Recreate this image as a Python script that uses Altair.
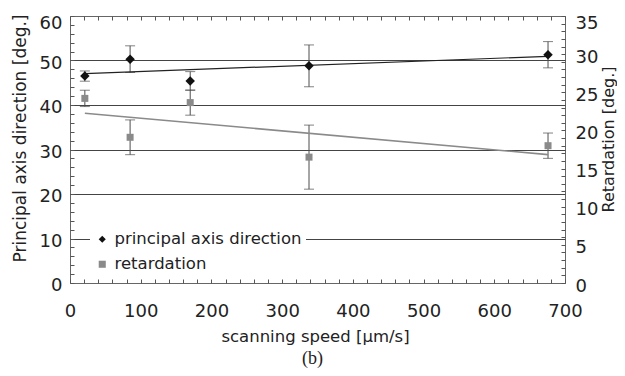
import altair as alt
import pandas as pd

# ---- data ----
speed = [21, 85, 170, 338, 676]
principal = [46.5, 50.3, 45.4, 48.8, 51.3]
principal_err = [1.15, 3.0, 2.1, 4.7, 2.95]
retardation = [24.2, 19.1, 23.65, 16.5, 18.0]
retardation_err = [1.07, 2.28, 1.65, 4.2, 1.66]
series_names = ["principal axis direction", "retardation"]
x_ticks = list(range(0, 701, 20))
yl_ticks = list(range(0, 61, 2))
yr_ticks = list(range(0, 36, 1))

df_p = pd.DataFrame({"speed": speed, "value": principal, "err": principal_err,
                     "series": series_names[0]})
df_r = pd.DataFrame({"speed": speed, "value": retardation, "err": retardation_err,
                     "series": series_names[1]})

FONT = "DejaVu Sans"
TXT = "#222222"
ERR = "#4d4d4d"
TICK = "#555555"

x_scale = alt.Scale(domain=[0, 700], nice=False, zero=False)
yl_scale = alt.Scale(domain=[0, 60], nice=False)
yr_scale = alt.Scale(domain=[0, 35], nice=False)

x_bottom = alt.Axis(
    orient="bottom", values=x_ticks,
    labelExpr="datum.value % 100 == 0 ? datum.label : ''",
    labelOverlap=False, labelFlush=False, offset=-4, tickSize=4, tickColor=TICK,
    domain=False, grid=False, labelFont=FONT, labelFontSize=18, labelColor=TXT,
    labelPadding=19,
    title="scanning speed [µm/s]", titleFont=FONT, titleFontSize=16.5,
    titleFontWeight="normal", titleColor=TXT, titleX=245, titleY=57,
    titleBaseline="middle", titleAlign="center")

x_top = alt.Axis(
    orient="top", values=x_ticks, labels=False, offset=-4, tickSize=4,
    tickColor=TICK, domain=False, grid=False, title=None)

y_left = alt.Axis(
    orient="left", values=yl_ticks,
    labelExpr="datum.value % 10 == 0 ? datum.label : ''",
    labelOverlap=False, labelFlush=False, offset=-4, tickSize=4, tickColor=TICK,
    domain=False, grid=True, gridColor="#444444", gridWidth=1,
    gridOpacity={"condition": {"test": "datum.value % 10 == 0 && datum.value > 0 && datum.value < 60",
                               "value": 1}, "value": 0},
    labelFont=FONT, labelFontSize=18, labelColor=TXT, labelPadding=8,
    labelBaseline={"condition": {"test": "datum.value == 60", "value": "top"}, "value": "middle"},
    labelOffset={"condition": {"test": "datum.value == 60", "value": -2}, "value": 2.5},
    title="Principal axis direction [deg.]", titleFont=FONT, titleFontSize=17,
    titleFontWeight="normal", titleColor=TXT, titleX=-54, titleY=122,
    titleAngle=270, titleBaseline="middle", titleAlign="center")

y_right = alt.Axis(
    orient="right", values=yr_ticks,
    labelExpr="datum.value % 5 == 0 ? datum.label : ''",
    labelOverlap=False, labelFlush=False, offset=-4, tickSize=4, tickColor=TICK,
    domain=False, grid=False, labelFont=FONT, labelFontSize=18, labelColor=TXT,
    labelPadding=10,
    labelBaseline={"condition": {"test": "datum.value == 35", "value": "top"}, "value": "middle"},
    labelOffset={"condition": {"test": "datum.value == 35", "value": -2}, "value": 3},
    title="Retardation [deg.]", titleFont=FONT, titleFontSize=16,
    titleFontWeight="normal", titleColor=TXT, titleX=55, titleY=123,
    titleAngle=270, titleBaseline="bottom", titleAlign="center")

color_scale = alt.Scale(domain=series_names, range=["#111111", "#8a8a8a"])
shape_scale = alt.Scale(domain=series_names, range=["diamond", "square"])
legend = alt.Legend(
    title=None, orient="none", legendX=20, legendY=211, fillColor="white",
    padding=4, labelFont=FONT, labelFontSize=16.5, labelColor=TXT, labelLimit=0,
    symbolSize=50, symbolStrokeWidth=0, labelOffset=4, rowPadding=8)


def group(df, y_scale, y_axis, x_axis, point_size, line_color, line_width):
    base = alt.Chart(df)
    xe = alt.X("speed:Q", scale=x_scale, axis=x_axis)
    ye = alt.Y("value:Q", scale=y_scale, axis=y_axis)
    bars = base.transform_calculate(
        lo="datum.value - datum.err", hi="datum.value + datum.err"
    ).mark_rule(color=ERR, strokeWidth=1).encode(
        x=xe, y=alt.Y("lo:Q", scale=y_scale, axis=y_axis), y2="hi:Q")
    cap_lo = base.transform_calculate(lo="datum.value - datum.err").mark_tick(
        orient="horizontal", size=10, thickness=1, color=ERR).encode(
        x=xe, y=alt.Y("lo:Q", scale=y_scale, axis=y_axis))
    cap_hi = base.transform_calculate(hi="datum.value + datum.err").mark_tick(
        orient="horizontal", size=10, thickness=1, color=ERR).encode(
        x=xe, y=alt.Y("hi:Q", scale=y_scale, axis=y_axis))
    trend = base.transform_regression("speed", "value").mark_line(
        color=line_color, strokeWidth=line_width).encode(x=xe, y=ye)
    pts = base.mark_point(filled=True, size=point_size, opacity=1, strokeWidth=0).encode(
        x=xe, y=ye,
        color=alt.Color("series:N", scale=color_scale, legend=legend),
        shape=alt.Shape("series:N", scale=shape_scale, legend=legend))
    return alt.layer(bars, cap_lo, cap_hi, trend, pts)


left = group(df_p, yl_scale, y_left, x_bottom, 90, "#222222", 1.2)
right = group(df_r, yr_scale, y_right, x_top, 49, "#8a8a8a", 1.6)

chart = alt.layer(left, right).resolve_scale(
    y="independent"
).resolve_axis(
    x="independent"
).properties(
    width=495, height=267,
    padding={"left": 62, "top": 8, "right": 52, "bottom": 85},
    autosize=alt.AutoSizeParams(type="none"),
    title=alt.TitleParams("(b)", orient="bottom", font="Liberation Serif",
                          fontSize=18, fontWeight="normal", color=TXT,
                          offset=5, anchor="middle", dx=-5),
).configure_view(stroke="#666666", strokeWidth=1)

chart.save("out.html", embed_options={"renderer": "svg", "actions": False})
